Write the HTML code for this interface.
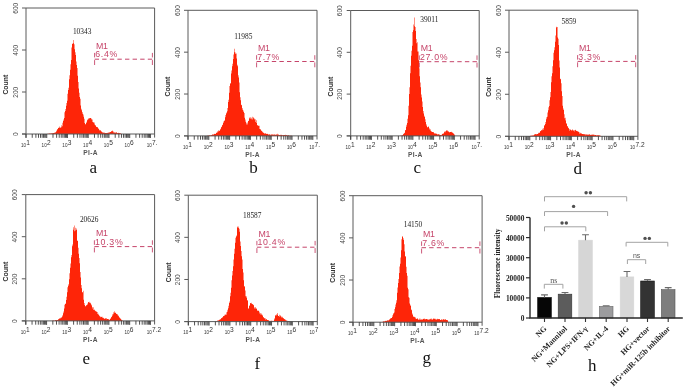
<!DOCTYPE html>
<html><head><meta charset="utf-8"><title>Figure</title>
<style>
html,body{margin:0;padding:0;background:#fff;}
body{width:685px;height:388px;overflow:hidden;}
svg{display:block;will-change:transform;}
</style></head>
<body>
<svg width="685" height="388" viewBox="0 0 685 388">
<rect width="685" height="388" fill="#fff"/>
<polygon points="46.5,134 46.5,133.97 47,133.97 47,133.91 47.5,133.91 47.5,133.86 48,133.86 48,133.8 48.5,133.8 48.5,133.74 49,133.74 49,133.56 49.5,133.56 49.5,133.52 50,133.52 50,133.59 50.5,133.59 50.5,133.6 51,133.6 51,133.31 51.5,133.31 51.5,133.43 52,133.43 52,133.19 52.5,133.19 52.5,133.31 53,133.31 53,133.1 53.5,133.1 53.5,133.05 54,133.05 54,132.89 54.5,132.89 54.5,132.5 55,132.5 55,132.3 55.5,132.3 55.5,132.39 56,132.39 56,131.61 56.5,131.61 56.5,130.42 57,130.42 57,129.06 57.5,129.06 57.5,129.53 58,129.53 58,127.96 58.5,127.96 58.5,127.87 59,127.87 59,127.8 59.5,127.8 59.5,126.6 60,126.6 60,127.56 60.5,127.56 60.5,127.7 61,127.7 61,127.2 61.5,127.2 61.5,125.36 62,125.36 62,126.25 62.5,126.25 62.5,122.72 63,122.72 63,121.04 63.5,121.04 63.5,119.58 64,119.58 64,117.99 64.5,117.99 64.5,112.34 65,112.34 65,110.89 65.5,110.89 65.5,108.97 66,108.97 66,105.75 66.5,105.75 66.5,102.9 67,102.9 67,100.72 67.5,100.72 67.5,93.77 68,93.77 68,90.04 68.5,90.04 68.5,87.86 69,87.86 69,79.14 69.5,79.14 69.5,75.15 70,75.15 70,69.85 70.5,69.85 70.5,64.32 71,64.32 71,60.07 71.5,60.07 71.5,47.62 72,47.62 72,43.52 72.5,43.52 72.5,44.06 73,44.06 73,40.1 73.5,40.1 73.5,43.14 74,43.14 74,44.32 74.5,44.32 74.5,49.22 75,49.22 75,52.22 75.5,52.22 75.5,54.94 76,54.94 76,61.54 76.5,61.54 76.5,64.9 77,64.9 77,68.12 77.5,68.12 77.5,75.63 78,75.63 78,82.05 78.5,82.05 78.5,88.51 79,88.51 79,92.71 79.5,92.71 79.5,96.96 80,96.96 80,98.75 80.5,98.75 80.5,105.46 81,105.46 81,108.77 81.5,108.77 81.5,110.26 82,110.26 82,111.9 82.5,111.9 82.5,113.81 83,113.81 83,114.48 83.5,114.48 83.5,116.82 84,116.82 84,118.73 84.5,118.73 84.5,122.98 85,122.98 85,123.99 85.5,123.99 85.5,124.52 86,124.52 86,123.1 86.5,123.1 86.5,121.82 87,121.82 87,120.26 87.5,120.26 87.5,119.42 88,119.42 88,118.24 88.5,118.24 88.5,119.36 89,119.36 89,118.19 89.5,118.19 89.5,118.19 90,118.19 90,118.02 90.5,118.02 90.5,117.94 91,117.94 91,118.43 91.5,118.43 91.5,119.59 92,119.59 92,119.53 92.5,119.53 92.5,121.94 93,121.94 93,122.29 93.5,122.29 93.5,122.48 94,122.48 94,122.59 94.5,122.59 94.5,124.61 95,124.61 95,125.51 95.5,125.51 95.5,125.34 96,125.34 96,126.65 96.5,126.65 96.5,127.04 97,127.04 97,126.9 97.5,126.9 97.5,127.55 98,127.55 98,128.58 98.5,128.58 98.5,128.85 99,128.85 99,129.71 99.5,129.71 99.5,130.41 100,130.41 100,129.98 100.5,129.98 100.5,130.75 101,130.75 101,131.24 101.5,131.24 101.5,131.84 102,131.84 102,132.4 102.5,132.4 102.5,132.33 103,132.33 103,132.62 103.5,132.62 103.5,132.84 104,132.84 104,132.7 104.5,132.7 104.5,132.83 105,132.83 105,132.95 105.5,132.95 105.5,132.88 106,132.88 106,132.9 106.5,132.9 106.5,133.08 107,133.08 107,133 107.5,133 107.5,132.68 108,132.68 108,132.77 108.5,132.77 108.5,132.53 109,132.53 109,132.32 109.5,132.32 109.5,132.48 110,132.48 110,132.06 110.5,132.06 110.5,131.9 111,131.9 111,131.18 111.5,131.18 111.5,131.15 112,131.15 112,130.48 112.5,130.48 112.5,131.15 113,131.15 113,131.5 113.5,131.5 113.5,132.4 114,132.4 114,132.45 114.5,132.45 114.5,132.46 115,132.46 115,132.42 115.5,132.42 115.5,132.69 116,132.69 116,132.37 116.5,132.37 116.5,132.55 117,132.55 117,133.37 117.5,133.37 117.5,133.01 118,133.01 118,133.02 118.5,133.02 118.5,132.85 119,132.85 119,132.96 119.5,132.96 119.5,133.33 120,133.33 120,133.19 120.5,133.19 120.5,133.44 121,133.44 121,133.74 121.5,133.74 121.5,133.91 122,133.91 122,134" fill="#fe2508"/>
<path d="M26 8H154.6V137.6" fill="none" stroke="#5a5a5a" stroke-width="1"/>
<path d="M26 8V137.6" fill="none" stroke="#5a5a5a" stroke-width="1"/>
<path d="M22 134H154.6" fill="none" stroke="#5a5a5a" stroke-width="1"/>
<path d="M22 134H26" stroke="#5a5a5a" stroke-width="1"/>
<text transform="translate(17.5 134.3) rotate(-90) scale(0.84 1)" text-anchor="middle" font-family='"Liberation Sans", sans-serif' font-size="7.8" fill="#444">0</text>
<path d="M22 92H26" stroke="#5a5a5a" stroke-width="1"/>
<text transform="translate(17.5 92.3) rotate(-90) scale(0.84 1)" text-anchor="middle" font-family='"Liberation Sans", sans-serif' font-size="7.8" fill="#444">200</text>
<path d="M22 50H26" stroke="#5a5a5a" stroke-width="1"/>
<text transform="translate(17.5 50.3) rotate(-90) scale(0.84 1)" text-anchor="middle" font-family='"Liberation Sans", sans-serif' font-size="7.8" fill="#444">400</text>
<path d="M22 8H26" stroke="#5a5a5a" stroke-width="1"/>
<text transform="translate(17.5 8.3) rotate(-90) scale(0.84 1)" text-anchor="middle" font-family='"Liberation Sans", sans-serif' font-size="7.8" fill="#444">600</text>
<text transform="translate(8.4 84.7) rotate(-90) scale(0.9 1)" text-anchor="middle" font-family='"Liberation Sans", sans-serif' font-weight="bold" font-size="7.6" fill="#333">Count</text>
<path d="M26 134V138M32.24 134V137.8M35.9 134V137.8M38.49 134V137.8M40.5 134V137.8M42.14 134V137.8M43.53 134V137.8M44.73 134V137.8M45.79 134V137.8M46.74 134V138M52.99 134V137.8M56.64 134V137.8M59.23 134V137.8M61.24 134V137.8M62.88 134V137.8M64.27 134V137.8M65.47 134V137.8M66.53 134V137.8M67.48 134V138M73.73 134V137.8M77.38 134V137.8M79.97 134V137.8M81.98 134V137.8M83.62 134V137.8M85.01 134V137.8M86.22 134V137.8M87.28 134V137.8M88.23 134V138M94.47 134V137.8M98.12 134V137.8M100.71 134V137.8M102.72 134V137.8M104.37 134V137.8M105.75 134V137.8M106.96 134V137.8M108.02 134V137.8M108.97 134V138M115.21 134V137.8M118.86 134V137.8M121.46 134V137.8M123.47 134V137.8M125.11 134V137.8M126.5 134V137.8M127.7 134V137.8M128.76 134V137.8M129.71 134V138M135.95 134V137.8M139.61 134V137.8M142.2 134V137.8M144.21 134V137.8M145.85 134V137.8M147.24 134V137.8M148.44 134V137.8M149.5 134V137.8M150.45 134V138" stroke="#333" stroke-width="0.85"/>
<text x="26" y="146.6" text-anchor="end" font-family='"Liberation Sans", sans-serif' font-size="4.6" fill="#333">10</text>
<text x="26.2" y="144.8" font-family='"Liberation Sans", sans-serif' font-size="6.6" fill="#333">1</text>
<text x="46.74" y="146.6" text-anchor="end" font-family='"Liberation Sans", sans-serif' font-size="4.6" fill="#333">10</text>
<text x="46.94" y="144.8" font-family='"Liberation Sans", sans-serif' font-size="6.6" fill="#333">2</text>
<text x="67.48" y="146.6" text-anchor="end" font-family='"Liberation Sans", sans-serif' font-size="4.6" fill="#333">10</text>
<text x="67.68" y="144.8" font-family='"Liberation Sans", sans-serif' font-size="6.6" fill="#333">3</text>
<text x="88.23" y="146.6" text-anchor="end" font-family='"Liberation Sans", sans-serif' font-size="4.6" fill="#333">10</text>
<text x="88.43" y="144.8" font-family='"Liberation Sans", sans-serif' font-size="6.6" fill="#333">4</text>
<text x="108.97" y="146.6" text-anchor="end" font-family='"Liberation Sans", sans-serif' font-size="4.6" fill="#333">10</text>
<text x="109.17" y="144.8" font-family='"Liberation Sans", sans-serif' font-size="6.6" fill="#333">5</text>
<text x="129.71" y="146.6" text-anchor="end" font-family='"Liberation Sans", sans-serif' font-size="4.6" fill="#333">10</text>
<text x="129.91" y="144.8" font-family='"Liberation Sans", sans-serif' font-size="6.6" fill="#333">6</text>
<text x="151.9" y="146.6" text-anchor="end" font-family='"Liberation Sans", sans-serif' font-size="4.6" fill="#333">10</text>
<text x="152.1" y="144.8" font-family='"Liberation Sans", sans-serif' font-size="6.6" fill="#333">7.</text>
<text x="90.6" y="154.8" text-anchor="middle" font-family='"Liberation Sans", sans-serif' font-weight="bold" font-size="6.6" letter-spacing="0.4" fill="#555">PI-A</text>
<text x="72.9" y="34.3" font-family='"Liberation Serif", serif' font-size="7.4" fill="#222">10343</text>
<path d="M94.6 59.2H152.4" stroke="#c6456a" stroke-width="1" stroke-dasharray="4.4 3.2"/>
<path d="M94.6 52.9V57.4M94.6 60.1V65M152.4 52.9V57.4M152.4 60.1V65" stroke="#c6456a" stroke-width="0.9"/>
<text x="96.1" y="48.8" font-family='"Liberation Sans", sans-serif' font-size="8.8" letter-spacing="-0.3" fill="#c6456a">M1</text>
<text x="95.2" y="57.3" font-family='"Liberation Sans", sans-serif' font-size="8.8" letter-spacing="0.7" fill="#c6456a">6.4%</text>
<text x="93.2" y="172.6" text-anchor="middle" font-family='"Liberation Serif", serif' font-size="17" fill="#111">a</text>
<polygon points="207,135.9 207,135.86 207.5,135.86 207.5,135.78 208,135.78 208,135.69 208.5,135.69 208.5,135.61 209,135.61 209,135.53 209.5,135.53 209.5,135.32 210,135.32 210,135.41 210.5,135.41 210.5,135.17 211,135.17 211,135.03 211.5,135.03 211.5,135.24 212,135.24 212,134.81 212.5,134.81 212.5,134.28 213,134.28 213,134.42 213.5,134.42 213.5,134.55 214,134.55 214,133.66 214.5,133.66 214.5,134.07 215,134.07 215,133.69 215.5,133.69 215.5,133.97 216,133.97 216,132.68 216.5,132.68 216.5,132.75 217,132.75 217,132.48 217.5,132.48 217.5,131.24 218,131.24 218,130.28 218.5,130.28 218.5,131.4 219,131.4 219,130.89 219.5,130.89 219.5,130.45 220,130.45 220,128.77 220.5,128.77 220.5,129.47 221,129.47 221,127.19 221.5,127.19 221.5,126.68 222,126.68 222,125.32 222.5,125.32 222.5,124.66 223,124.66 223,122.97 223.5,122.97 223.5,121.41 224,121.41 224,121.04 224.5,121.04 224.5,120.26 225,120.26 225,117.31 225.5,117.31 225.5,115.12 226,115.12 226,113.41 226.5,113.41 226.5,112.56 227,112.56 227,111.13 227.5,111.13 227.5,108.03 228,108.03 228,101.89 228.5,101.89 228.5,99.79 229,99.79 229,92.84 229.5,92.84 229.5,86 230,86 230,83.64 230.5,83.64 230.5,83.11 231,83.11 231,73.62 231.5,73.62 231.5,70.46 232,70.46 232,66.21 232.5,66.21 232.5,63.77 233,63.77 233,58.96 233.5,58.96 233.5,54.4 234,54.4 234,52.3 234.5,52.3 234.5,48.87 235,48.87 235,52.55 235.5,52.55 235.5,54.02 236,54.02 236,53.53 236.5,53.53 236.5,58.42 237,58.42 237,66.33 237.5,66.33 237.5,64.71 238,64.71 238,75.33 238.5,75.33 238.5,77.44 239,77.44 239,82.51 239.5,82.51 239.5,92.16 240,92.16 240,97.16 240.5,97.16 240.5,100.29 241,100.29 241,104.76 241.5,104.76 241.5,105.14 242,105.14 242,108.12 242.5,108.12 242.5,109.79 243,109.79 243,110.47 243.5,110.47 243.5,111.96 244,111.96 244,112.93 244.5,112.93 244.5,117.83 245,117.83 245,119.52 245.5,119.52 245.5,121.71 246,121.71 246,122.73 246.5,122.73 246.5,124.43 247,124.43 247,124.52 247.5,124.52 247.5,122.55 248,122.55 248,120.68 248.5,120.68 248.5,120.99 249,120.99 249,117.6 249.5,117.6 249.5,118.56 250,118.56 250,118.69 250.5,118.69 250.5,117.27 251,117.27 251,119.25 251.5,119.25 251.5,117.77 252,117.77 252,119.48 252.5,119.48 252.5,116.84 253,116.84 253,118.36 253.5,118.36 253.5,117.3 254,117.3 254,118.62 254.5,118.62 254.5,119.38 255,119.38 255,119.37 255.5,119.37 255.5,122.09 256,122.09 256,120.33 256.5,120.33 256.5,123.11 257,123.11 257,125.08 257.5,125.08 257.5,125.41 258,125.41 258,125.45 258.5,125.45 258.5,126.08 259,126.08 259,125.69 259.5,125.69 259.5,129.1 260,129.1 260,129.51 260.5,129.51 260.5,129.37 261,129.37 261,130.98 261.5,130.98 261.5,130.43 262,130.43 262,131.59 262.5,131.59 262.5,132.13 263,132.13 263,132.44 263.5,132.44 263.5,133.03 264,133.03 264,133.35 264.5,133.35 264.5,133.73 265,133.73 265,133.44 265.5,133.44 265.5,133.25 266,133.25 266,133.85 266.5,133.85 266.5,134.04 267,134.04 267,133.63 267.5,133.63 267.5,134.08 268,134.08 268,134.68 268.5,134.68 268.5,134.22 269,134.22 269,134.62 269.5,134.62 269.5,134.18 270,134.18 270,134.49 270.5,134.49 270.5,135.13 271,135.13 271,134.13 271.5,134.13 271.5,134.77 272,134.77 272,134.56 272.5,134.56 272.5,134.4 273,134.4 273,134.73 273.5,134.73 273.5,134.38 274,134.38 274,134.42 274.5,134.42 274.5,134.38 275,134.38 275,135.12 275.5,135.12 275.5,134.39 276,134.39 276,134.35 276.5,134.35 276.5,134.78 277,134.78 277,133.85 277.5,133.85 277.5,134.73 278,134.73 278,134.87 278.5,134.87 278.5,134.38 279,134.38 279,134.91 279.5,134.91 279.5,134.91 280,134.91 280,134.87 280.5,134.87 280.5,135.24 281,135.24 281,134.7 281.5,134.7 281.5,135.1 282,135.1 282,135.39 282.5,135.39 282.5,135.03 283,135.03 283,134.99 283.5,134.99 283.5,135.32 284,135.32 284,135 284.5,135 284.5,135.07 285,135.07 285,134.77 285.5,134.77 285.5,135.23 286,135.23 286,135.04 286.5,135.04 286.5,135.21 287,135.21 287,135.44 287.5,135.44 287.5,135.52 288,135.52 288,135.23 288.5,135.23 288.5,135.35 289,135.35 289,135.7 289.5,135.7 289.5,135.64 290,135.64 290,135.7 290.5,135.7 290.5,135.75 291,135.75 291,135.81 291.5,135.81 291.5,135.87 292,135.87 292,135.9" fill="#fe2508"/>
<path d="M188 10.3H317V139.5" fill="none" stroke="#5a5a5a" stroke-width="1"/>
<path d="M188 10.3V139.5" fill="none" stroke="#5a5a5a" stroke-width="1"/>
<path d="M184 135.9H317" fill="none" stroke="#5a5a5a" stroke-width="1"/>
<path d="M184 135.9H188" stroke="#5a5a5a" stroke-width="1"/>
<text transform="translate(179.5 136.2) rotate(-90) scale(0.84 1)" text-anchor="middle" font-family='"Liberation Sans", sans-serif' font-size="7.8" fill="#444">0</text>
<path d="M184 94.03H188" stroke="#5a5a5a" stroke-width="1"/>
<text transform="translate(179.5 94.33) rotate(-90) scale(0.84 1)" text-anchor="middle" font-family='"Liberation Sans", sans-serif' font-size="7.8" fill="#444">200</text>
<path d="M184 52.17H188" stroke="#5a5a5a" stroke-width="1"/>
<text transform="translate(179.5 52.47) rotate(-90) scale(0.84 1)" text-anchor="middle" font-family='"Liberation Sans", sans-serif' font-size="7.8" fill="#444">400</text>
<path d="M184 10.3H188" stroke="#5a5a5a" stroke-width="1"/>
<text transform="translate(179.5 10.6) rotate(-90) scale(0.84 1)" text-anchor="middle" font-family='"Liberation Sans", sans-serif' font-size="7.8" fill="#444">600</text>
<text transform="translate(170.4 86.6) rotate(-90) scale(0.9 1)" text-anchor="middle" font-family='"Liberation Sans", sans-serif' font-weight="bold" font-size="7.6" fill="#333">Count</text>
<path d="M188 135.9V139.9M194.26 135.9V139.7M197.93 135.9V139.7M200.53 135.9V139.7M202.54 135.9V139.7M204.19 135.9V139.7M205.58 135.9V139.7M206.79 135.9V139.7M207.85 135.9V139.7M208.81 135.9V139.9M215.07 135.9V139.7M218.73 135.9V139.7M221.33 135.9V139.7M223.35 135.9V139.7M225 135.9V139.7M226.39 135.9V139.7M227.6 135.9V139.7M228.66 135.9V139.7M229.61 135.9V139.9M235.88 135.9V139.7M239.54 135.9V139.7M242.14 135.9V139.7M244.16 135.9V139.7M245.8 135.9V139.7M247.2 135.9V139.7M248.4 135.9V139.7M249.47 135.9V139.7M250.42 135.9V139.9M256.68 135.9V139.7M260.35 135.9V139.7M262.95 135.9V139.7M264.96 135.9V139.7M266.61 135.9V139.7M268 135.9V139.7M269.21 135.9V139.7M270.27 135.9V139.7M271.23 135.9V139.9M277.49 135.9V139.7M281.15 135.9V139.7M283.75 135.9V139.7M285.77 135.9V139.7M287.42 135.9V139.7M288.81 135.9V139.7M290.02 135.9V139.7M291.08 135.9V139.7M292.03 135.9V139.9M298.3 135.9V139.7M301.96 135.9V139.7M304.56 135.9V139.7M306.58 135.9V139.7M308.22 135.9V139.7M309.62 135.9V139.7M310.82 135.9V139.7M311.89 135.9V139.7M312.84 135.9V139.9" stroke="#333" stroke-width="0.85"/>
<text x="188" y="148.5" text-anchor="end" font-family='"Liberation Sans", sans-serif' font-size="4.6" fill="#333">10</text>
<text x="188.2" y="146.7" font-family='"Liberation Sans", sans-serif' font-size="6.6" fill="#333">1</text>
<text x="208.81" y="148.5" text-anchor="end" font-family='"Liberation Sans", sans-serif' font-size="4.6" fill="#333">10</text>
<text x="209.01" y="146.7" font-family='"Liberation Sans", sans-serif' font-size="6.6" fill="#333">2</text>
<text x="229.61" y="148.5" text-anchor="end" font-family='"Liberation Sans", sans-serif' font-size="4.6" fill="#333">10</text>
<text x="229.81" y="146.7" font-family='"Liberation Sans", sans-serif' font-size="6.6" fill="#333">3</text>
<text x="250.42" y="148.5" text-anchor="end" font-family='"Liberation Sans", sans-serif' font-size="4.6" fill="#333">10</text>
<text x="250.62" y="146.7" font-family='"Liberation Sans", sans-serif' font-size="6.6" fill="#333">4</text>
<text x="271.23" y="148.5" text-anchor="end" font-family='"Liberation Sans", sans-serif' font-size="4.6" fill="#333">10</text>
<text x="271.43" y="146.7" font-family='"Liberation Sans", sans-serif' font-size="6.6" fill="#333">5</text>
<text x="292.03" y="148.5" text-anchor="end" font-family='"Liberation Sans", sans-serif' font-size="4.6" fill="#333">10</text>
<text x="292.23" y="146.7" font-family='"Liberation Sans", sans-serif' font-size="6.6" fill="#333">6</text>
<text x="314.3" y="148.5" text-anchor="end" font-family='"Liberation Sans", sans-serif' font-size="4.6" fill="#333">10</text>
<text x="314.5" y="146.7" font-family='"Liberation Sans", sans-serif' font-size="6.6" fill="#333">7.</text>
<text x="252.6" y="156.7" text-anchor="middle" font-family='"Liberation Sans", sans-serif' font-weight="bold" font-size="6.6" letter-spacing="0.4" fill="#555">PI-A</text>
<text x="234.2" y="38.8" font-family='"Liberation Serif", serif' font-size="7.4" fill="#222">11985</text>
<path d="M256.6 61.5H314.8" stroke="#c6456a" stroke-width="1" stroke-dasharray="4.4 3.2"/>
<path d="M256.6 55.2V59.7M256.6 62.4V67.3M314.8 55.2V59.7M314.8 62.4V67.3" stroke="#c6456a" stroke-width="0.9"/>
<text x="258.1" y="51.1" font-family='"Liberation Sans", sans-serif' font-size="8.8" letter-spacing="-0.3" fill="#c6456a">M1</text>
<text x="257.2" y="59.6" font-family='"Liberation Sans", sans-serif' font-size="8.8" letter-spacing="0.7" fill="#c6456a">7.7%</text>
<text x="253.5" y="173.2" text-anchor="middle" font-family='"Liberation Serif", serif' font-size="17" fill="#111">b</text>
<polygon points="400,135.9 400,135.82 400.5,135.82 400.5,135.66 401,135.66 401,135.67 401.5,135.67 401.5,135.45 402,135.45 402,135.43 402.5,135.43 402.5,135.03 403,135.03 403,134.37 403.5,134.37 403.5,133.66 404,133.66 404,133.13 404.5,133.13 404.5,132.69 405,132.69 405,130.21 405.5,130.21 405.5,130.02 406,130.02 406,126.81 406.5,126.81 406.5,124.77 407,124.77 407,122.9 407.5,122.9 407.5,118.79 408,118.79 408,115.21 408.5,115.21 408.5,105.69 409,105.69 409,93.99 409.5,93.99 409.5,87.31 410,87.31 410,73.36 410.5,73.36 410.5,65.68 411,65.68 411,55.64 411.5,55.64 411.5,50.8 412,50.8 412,45.7 412.5,45.7 412.5,32.06 413,32.06 413,30.34 413.5,30.34 413.5,24.51 414,24.51 414,17.4 414.5,17.4 414.5,26.29 415,26.29 415,26.89 415.5,26.89 415.5,31.1 416,31.1 416,38.96 416.5,38.96 416.5,43.24 417,43.24 417,42.32 417.5,42.32 417.5,51.43 418,51.43 418,51.55 418.5,51.55 418.5,60.31 419,60.31 419,68.32 419.5,68.32 419.5,76.29 420,76.29 420,82.47 420.5,82.47 420.5,87.24 421,87.24 421,94.58 421.5,94.58 421.5,97.52 422,97.52 422,101.52 422.5,101.52 422.5,107.04 423,107.04 423,111.04 423.5,111.04 423.5,113.62 424,113.62 424,115.78 424.5,115.78 424.5,117.02 425,117.02 425,119.3 425.5,119.3 425.5,121.92 426,121.92 426,124.19 426.5,124.19 426.5,125.7 427,125.7 427,127.15 427.5,127.15 427.5,127.22 428,127.22 428,126.59 428.5,126.59 428.5,126.82 429,126.82 429,128.14 429.5,128.14 429.5,129.52 430,129.52 430,129.36 430.5,129.36 430.5,130.72 431,130.72 431,131.86 431.5,131.86 431.5,131.25 432,131.25 432,132.06 432.5,132.06 432.5,131.93 433,131.93 433,132.01 433.5,132.01 433.5,132.42 434,132.42 434,133.36 434.5,133.36 434.5,133.46 435,133.46 435,133.55 435.5,133.55 435.5,133.62 436,133.62 436,133.53 436.5,133.53 436.5,134.1 437,134.1 437,134.1 437.5,134.1 437.5,134.77 438,134.77 438,134.58 438.5,134.58 438.5,134.11 439,134.11 439,134.49 439.5,134.49 439.5,134.84 440,134.84 440,134.94 440.5,134.94 440.5,134.91 441,134.91 441,135.24 441.5,135.24 441.5,134.83 442,134.83 442,133.8 442.5,133.8 442.5,134.12 443,134.12 443,133.87 443.5,133.87 443.5,133.22 444,133.22 444,131.62 444.5,131.62 444.5,132.2 445,132.2 445,132.16 445.5,132.16 445.5,130.99 446,130.99 446,130.48 446.5,130.48 446.5,130.51 447,130.51 447,130.24 447.5,130.24 447.5,131.23 448,131.23 448,131.49 448.5,131.49 448.5,131.45 449,131.45 449,132.05 449.5,132.05 449.5,132.52 450,132.52 450,132.03 450.5,132.03 450.5,132.1 451,132.1 451,131.69 451.5,131.69 451.5,132.27 452,132.27 452,132.49 452.5,132.49 452.5,132.72 453,132.72 453,133.35 453.5,133.35 453.5,133.85 454,133.85 454,134.24 454.5,134.24 454.5,135.29 455,135.29 455,135.9" fill="#fe2508"/>
<path d="M350.7 10.5H479.2V139.5" fill="none" stroke="#5a5a5a" stroke-width="1"/>
<path d="M350.7 10.5V139.5" fill="none" stroke="#5a5a5a" stroke-width="1"/>
<path d="M346.7 135.9H479.2" fill="none" stroke="#5a5a5a" stroke-width="1"/>
<path d="M346.7 135.9H350.7" stroke="#5a5a5a" stroke-width="1"/>
<text transform="translate(342.2 136.2) rotate(-90) scale(0.84 1)" text-anchor="middle" font-family='"Liberation Sans", sans-serif' font-size="7.8" fill="#444">0</text>
<path d="M346.7 94.1H350.7" stroke="#5a5a5a" stroke-width="1"/>
<text transform="translate(342.2 94.4) rotate(-90) scale(0.84 1)" text-anchor="middle" font-family='"Liberation Sans", sans-serif' font-size="7.8" fill="#444">200</text>
<path d="M346.7 52.3H350.7" stroke="#5a5a5a" stroke-width="1"/>
<text transform="translate(342.2 52.6) rotate(-90) scale(0.84 1)" text-anchor="middle" font-family='"Liberation Sans", sans-serif' font-size="7.8" fill="#444">400</text>
<path d="M346.7 10.5H350.7" stroke="#5a5a5a" stroke-width="1"/>
<text transform="translate(342.2 10.8) rotate(-90) scale(0.84 1)" text-anchor="middle" font-family='"Liberation Sans", sans-serif' font-size="7.8" fill="#444">600</text>
<text transform="translate(333.1 86.6) rotate(-90) scale(0.9 1)" text-anchor="middle" font-family='"Liberation Sans", sans-serif' font-weight="bold" font-size="7.6" fill="#333">Count</text>
<path d="M350.7 135.9V139.9M356.94 135.9V139.7M360.59 135.9V139.7M363.18 135.9V139.7M365.19 135.9V139.7M366.83 135.9V139.7M368.22 135.9V139.7M369.42 135.9V139.7M370.48 135.9V139.7M371.43 135.9V139.9M377.66 135.9V139.7M381.31 135.9V139.7M383.9 135.9V139.7M385.91 135.9V139.7M387.55 135.9V139.7M388.94 135.9V139.7M390.14 135.9V139.7M391.2 135.9V139.7M392.15 135.9V139.9M398.39 135.9V139.7M402.04 135.9V139.7M404.63 135.9V139.7M406.64 135.9V139.7M408.28 135.9V139.7M409.67 135.9V139.7M410.87 135.9V139.7M411.93 135.9V139.7M412.88 135.9V139.9M419.12 135.9V139.7M422.77 135.9V139.7M425.36 135.9V139.7M427.36 135.9V139.7M429.01 135.9V139.7M430.39 135.9V139.7M431.59 135.9V139.7M432.65 135.9V139.7M433.6 135.9V139.9M439.84 135.9V139.7M443.49 135.9V139.7M446.08 135.9V139.7M448.09 135.9V139.7M449.73 135.9V139.7M451.12 135.9V139.7M452.32 135.9V139.7M453.38 135.9V139.7M454.33 135.9V139.9M460.57 135.9V139.7M464.22 135.9V139.7M466.81 135.9V139.7M468.82 135.9V139.7M470.46 135.9V139.7M471.84 135.9V139.7M473.05 135.9V139.7M474.11 135.9V139.7M475.05 135.9V139.9" stroke="#333" stroke-width="0.85"/>
<text x="350.7" y="148.5" text-anchor="end" font-family='"Liberation Sans", sans-serif' font-size="4.6" fill="#333">10</text>
<text x="350.9" y="146.7" font-family='"Liberation Sans", sans-serif' font-size="6.6" fill="#333">1</text>
<text x="371.43" y="148.5" text-anchor="end" font-family='"Liberation Sans", sans-serif' font-size="4.6" fill="#333">10</text>
<text x="371.63" y="146.7" font-family='"Liberation Sans", sans-serif' font-size="6.6" fill="#333">2</text>
<text x="392.15" y="148.5" text-anchor="end" font-family='"Liberation Sans", sans-serif' font-size="4.6" fill="#333">10</text>
<text x="392.35" y="146.7" font-family='"Liberation Sans", sans-serif' font-size="6.6" fill="#333">3</text>
<text x="412.88" y="148.5" text-anchor="end" font-family='"Liberation Sans", sans-serif' font-size="4.6" fill="#333">10</text>
<text x="413.08" y="146.7" font-family='"Liberation Sans", sans-serif' font-size="6.6" fill="#333">4</text>
<text x="433.6" y="148.5" text-anchor="end" font-family='"Liberation Sans", sans-serif' font-size="4.6" fill="#333">10</text>
<text x="433.8" y="146.7" font-family='"Liberation Sans", sans-serif' font-size="6.6" fill="#333">5</text>
<text x="454.33" y="148.5" text-anchor="end" font-family='"Liberation Sans", sans-serif' font-size="4.6" fill="#333">10</text>
<text x="454.53" y="146.7" font-family='"Liberation Sans", sans-serif' font-size="6.6" fill="#333">6</text>
<text x="476.5" y="148.5" text-anchor="end" font-family='"Liberation Sans", sans-serif' font-size="4.6" fill="#333">10</text>
<text x="476.7" y="146.7" font-family='"Liberation Sans", sans-serif' font-size="6.6" fill="#333">7.</text>
<text x="415.3" y="156.7" text-anchor="middle" font-family='"Liberation Sans", sans-serif' font-weight="bold" font-size="6.6" letter-spacing="0.4" fill="#555">PI-A</text>
<text x="420.2" y="21.5" font-family='"Liberation Serif", serif' font-size="7.4" fill="#222">39011</text>
<path d="M419.3 61.7H477" stroke="#c6456a" stroke-width="1" stroke-dasharray="4.4 3.2"/>
<path d="M419.3 55.4V59.9M419.3 62.6V67.5M477 55.4V59.9M477 62.6V67.5" stroke="#c6456a" stroke-width="0.9"/>
<text x="420.8" y="51.3" font-family='"Liberation Sans", sans-serif' font-size="8.8" letter-spacing="-0.3" fill="#c6456a">M1</text>
<text x="419.9" y="59.8" font-family='"Liberation Sans", sans-serif' font-size="8.8" letter-spacing="0.7" fill="#c6456a">27.0%</text>
<text x="417.2" y="172.8" text-anchor="middle" font-family='"Liberation Serif", serif' font-size="17" fill="#111">c</text>
<polygon points="528,136.3 528,136.25 528.5,136.25 528.5,136.16 529,136.16 529,136.06 529.5,136.06 529.5,135.93 530,135.93 530,135.72 530.5,135.72 530.5,135.78 531,135.78 531,135.41 531.5,135.41 531.5,135.69 532,135.69 532,135.8 532.5,135.8 532.5,135.21 533,135.21 533,135.38 533.5,135.38 533.5,135.26 534,135.26 534,134.63 534.5,134.63 534.5,134.27 535,134.27 535,133.94 535.5,133.94 535.5,134.21 536,134.21 536,134.33 536.5,134.33 536.5,134.27 537,134.27 537,133.91 537.5,133.91 537.5,133.88 538,133.88 538,133.42 538.5,133.42 538.5,132.71 539,132.71 539,132.43 539.5,132.43 539.5,132.91 540,132.91 540,131.2 540.5,131.2 540.5,131.11 541,131.11 541,130.44 541.5,130.44 541.5,129.92 542,129.92 542,128.74 542.5,128.74 542.5,130.17 543,130.17 543,129.75 543.5,129.75 543.5,127.88 544,127.88 544,125.85 544.5,125.85 544.5,125 545,125 545,124.05 545.5,124.05 545.5,121.88 546,121.88 546,119.32 546.5,119.32 546.5,117.2 547,117.2 547,116.69 547.5,116.69 547.5,112.47 548,112.47 548,110.19 548.5,110.19 548.5,107.24 549,107.24 549,105.93 549.5,105.93 549.5,100.19 550,100.19 550,97.33 550.5,97.33 550.5,92.09 551,92.09 551,82.27 551.5,82.27 551.5,76.23 552,76.23 552,73.33 552.5,73.33 552.5,66.18 553,66.18 553,60.26 553.5,60.26 553.5,52.67 554,52.67 554,50.35 554.5,50.35 554.5,47.27 555,47.27 555,41.68 555.5,41.68 555.5,35.38 556,35.38 556,26.8 556.5,26.8 556.5,27.54 557,27.54 557,26.97 557.5,26.97 557.5,37.47 558,37.47 558,38.68 558.5,38.68 558.5,44.96 559,44.96 559,60.49 559.5,60.49 559.5,67.44 560,67.44 560,78.84 560.5,78.84 560.5,79.2 561,79.2 561,83.32 561.5,83.32 561.5,91.32 562,91.32 562,96.01 562.5,96.01 562.5,105.85 563,105.85 563,108.53 563.5,108.53 563.5,110.09 564,110.09 564,114.17 564.5,114.17 564.5,118.16 565,118.16 565,117.73 565.5,117.73 565.5,120.39 566,120.39 566,123.36 566.5,123.36 566.5,123.76 567,123.76 567,126.12 567.5,126.12 567.5,126.44 568,126.44 568,127.79 568.5,127.79 568.5,128.25 569,128.25 569,130.79 569.5,130.79 569.5,129.09 570,129.09 570,129.83 570.5,129.83 570.5,129.42 571,129.42 571,130.1 571.5,130.1 571.5,130.7 572,130.7 572,129.18 572.5,129.18 572.5,130.18 573,130.18 573,130.69 573.5,130.69 573.5,130.32 574,130.32 574,129.95 574.5,129.95 574.5,131.42 575,131.42 575,129.64 575.5,129.64 575.5,130.17 576,130.17 576,130.89 576.5,130.89 576.5,130.79 577,130.79 577,131.21 577.5,131.21 577.5,131.21 578,131.21 578,131.42 578.5,131.42 578.5,132.09 579,132.09 579,132.13 579.5,132.13 579.5,133.74 580,133.74 580,132.65 580.5,132.65 580.5,133.5 581,133.5 581,133.45 581.5,133.45 581.5,133.56 582,133.56 582,133.92 582.5,133.92 582.5,133.98 583,133.98 583,134.21 583.5,134.21 583.5,134.06 584,134.06 584,134.52 584.5,134.52 584.5,134.01 585,134.01 585,133.97 585.5,133.97 585.5,135.31 586,135.31 586,134.29 586.5,134.29 586.5,134.83 587,134.83 587,134.72 587.5,134.72 587.5,134.4 588,134.4 588,134.5 588.5,134.5 588.5,134.69 589,134.69 589,134.33 589.5,134.33 589.5,134.6 590,134.6 590,134.74 590.5,134.74 590.5,134.89 591,134.89 591,134.86 591.5,134.86 591.5,134.87 592,134.87 592,134.52 592.5,134.52 592.5,134.85 593,134.85 593,134.65 593.5,134.65 593.5,134.55 594,134.55 594,134.8 594.5,134.8 594.5,135.14 595,135.14 595,135.03 595.5,135.03 595.5,135.09 596,135.09 596,135.17 596.5,135.17 596.5,135.4 597,135.4 597,135.55 597.5,135.55 597.5,135 598,135 598,135.23 598.5,135.23 598.5,135.14 599,135.14 599,135.25 599.5,135.25 599.5,135.44 600,135.44 600,135.84 600.5,135.84 600.5,135.84 601,135.84 601,136.05 601.5,136.05 601.5,136.19 602,136.19 602,136.3" fill="#fe2508"/>
<path d="M509 10.2H637.9V139.9" fill="none" stroke="#5a5a5a" stroke-width="1"/>
<path d="M509 10.2V139.9" fill="none" stroke="#5a5a5a" stroke-width="1"/>
<path d="M505 136.3H637.9" fill="none" stroke="#5a5a5a" stroke-width="1"/>
<path d="M505 136.3H509" stroke="#5a5a5a" stroke-width="1"/>
<text transform="translate(500.5 136.6) rotate(-90) scale(0.84 1)" text-anchor="middle" font-family='"Liberation Sans", sans-serif' font-size="7.8" fill="#444">0</text>
<path d="M505 94.27H509" stroke="#5a5a5a" stroke-width="1"/>
<text transform="translate(500.5 94.57) rotate(-90) scale(0.84 1)" text-anchor="middle" font-family='"Liberation Sans", sans-serif' font-size="7.8" fill="#444">200</text>
<path d="M505 52.23H509" stroke="#5a5a5a" stroke-width="1"/>
<text transform="translate(500.5 52.53) rotate(-90) scale(0.84 1)" text-anchor="middle" font-family='"Liberation Sans", sans-serif' font-size="7.8" fill="#444">400</text>
<path d="M505 10.2H509" stroke="#5a5a5a" stroke-width="1"/>
<text transform="translate(500.5 10.5) rotate(-90) scale(0.84 1)" text-anchor="middle" font-family='"Liberation Sans", sans-serif' font-size="7.8" fill="#444">600</text>
<text transform="translate(491.4 87) rotate(-90) scale(0.9 1)" text-anchor="middle" font-family='"Liberation Sans", sans-serif' font-weight="bold" font-size="7.6" fill="#333">Count</text>
<path d="M509 136.3V140.3M515.26 136.3V140.1M518.92 136.3V140.1M521.52 136.3V140.1M523.53 136.3V140.1M525.18 136.3V140.1M526.57 136.3V140.1M527.78 136.3V140.1M528.84 136.3V140.1M529.79 136.3V140.3M536.05 136.3V140.1M539.71 136.3V140.1M542.31 136.3V140.1M544.32 136.3V140.1M545.97 136.3V140.1M547.36 136.3V140.1M548.57 136.3V140.1M549.63 136.3V140.1M550.58 136.3V140.3M556.84 136.3V140.1M560.5 136.3V140.1M563.1 136.3V140.1M565.11 136.3V140.1M566.76 136.3V140.1M568.15 136.3V140.1M569.36 136.3V140.1M570.42 136.3V140.1M571.37 136.3V140.3M577.63 136.3V140.1M581.29 136.3V140.1M583.89 136.3V140.1M585.9 136.3V140.1M587.55 136.3V140.1M588.94 136.3V140.1M590.15 136.3V140.1M591.21 136.3V140.1M592.16 136.3V140.3M598.42 136.3V140.1M602.08 136.3V140.1M604.68 136.3V140.1M606.69 136.3V140.1M608.34 136.3V140.1M609.73 136.3V140.1M610.94 136.3V140.1M612 136.3V140.1M612.95 136.3V140.3M619.21 136.3V140.1M622.87 136.3V140.1M625.47 136.3V140.1M627.48 136.3V140.1M629.13 136.3V140.1M630.52 136.3V140.1M631.73 136.3V140.1M632.79 136.3V140.1M633.74 136.3V140.3" stroke="#333" stroke-width="0.85"/>
<text x="509" y="148.9" text-anchor="end" font-family='"Liberation Sans", sans-serif' font-size="4.6" fill="#333">10</text>
<text x="509.2" y="147.1" font-family='"Liberation Sans", sans-serif' font-size="6.6" fill="#333">1</text>
<text x="529.79" y="148.9" text-anchor="end" font-family='"Liberation Sans", sans-serif' font-size="4.6" fill="#333">10</text>
<text x="529.99" y="147.1" font-family='"Liberation Sans", sans-serif' font-size="6.6" fill="#333">2</text>
<text x="550.58" y="148.9" text-anchor="end" font-family='"Liberation Sans", sans-serif' font-size="4.6" fill="#333">10</text>
<text x="550.78" y="147.1" font-family='"Liberation Sans", sans-serif' font-size="6.6" fill="#333">3</text>
<text x="571.37" y="148.9" text-anchor="end" font-family='"Liberation Sans", sans-serif' font-size="4.6" fill="#333">10</text>
<text x="571.57" y="147.1" font-family='"Liberation Sans", sans-serif' font-size="6.6" fill="#333">4</text>
<text x="592.16" y="148.9" text-anchor="end" font-family='"Liberation Sans", sans-serif' font-size="4.6" fill="#333">10</text>
<text x="592.36" y="147.1" font-family='"Liberation Sans", sans-serif' font-size="6.6" fill="#333">5</text>
<text x="612.95" y="148.9" text-anchor="end" font-family='"Liberation Sans", sans-serif' font-size="4.6" fill="#333">10</text>
<text x="613.15" y="147.1" font-family='"Liberation Sans", sans-serif' font-size="6.6" fill="#333">6</text>
<text x="635.2" y="148.9" text-anchor="end" font-family='"Liberation Sans", sans-serif' font-size="4.6" fill="#333">10</text>
<text x="635.4" y="147.1" font-family='"Liberation Sans", sans-serif' font-size="6.6" fill="#333">7.2</text>
<text x="573.6" y="157.1" text-anchor="middle" font-family='"Liberation Sans", sans-serif' font-weight="bold" font-size="6.6" letter-spacing="0.4" fill="#555">PI-A</text>
<text x="561.5" y="24.3" font-family='"Liberation Serif", serif' font-size="7.4" fill="#222">5859</text>
<path d="M577.6 61.4H635.7" stroke="#c6456a" stroke-width="1" stroke-dasharray="4.4 3.2"/>
<path d="M577.6 55.1V59.6M577.6 62.3V67.2M635.7 55.1V59.6M635.7 62.3V67.2" stroke="#c6456a" stroke-width="0.9"/>
<text x="579.1" y="51" font-family='"Liberation Sans", sans-serif' font-size="8.8" letter-spacing="-0.3" fill="#c6456a">M1</text>
<text x="578.2" y="59.5" font-family='"Liberation Sans", sans-serif' font-size="8.8" letter-spacing="0.7" fill="#c6456a">3.3%</text>
<text x="577.8" y="173.9" text-anchor="middle" font-family='"Liberation Serif", serif' font-size="17" fill="#111">d</text>
<polygon points="52,320.9 52,320.86 52.5,320.86 52.5,320.77 53,320.77 53,320.68 53.5,320.68 53.5,320.56 54,320.56 54,320.67 54.5,320.67 54.5,320.65 55,320.65 55,320.2 55.5,320.2 55.5,320.06 56,320.06 56,320.46 56.5,320.46 56.5,319.96 57,319.96 57,320.08 57.5,320.08 57.5,319.98 58,319.98 58,319.26 58.5,319.26 58.5,319.28 59,319.28 59,318.34 59.5,318.34 59.5,318.77 60,318.77 60,318.56 60.5,318.56 60.5,317.86 61,317.86 61,318.06 61.5,318.06 61.5,317.06 62,317.06 62,316.59 62.5,316.59 62.5,315.14 63,315.14 63,313.35 63.5,313.35 63.5,311.45 64,311.45 64,308.51 64.5,308.51 64.5,304.82 65,304.82 65,303.8 65.5,303.8 65.5,303.77 66,303.77 66,299.99 66.5,299.99 66.5,296.65 67,296.65 67,292.36 67.5,292.36 67.5,287.14 68,287.14 68,285.8 68.5,285.8 68.5,284.34 69,284.34 69,279.25 69.5,279.25 69.5,273.35 70,273.35 70,267.72 70.5,267.72 70.5,263.44 71,263.44 71,257.33 71.5,257.33 71.5,254.92 72,254.92 72,246.33 72.5,246.33 72.5,244.49 73,244.49 73,229.73 73.5,229.73 73.5,227.29 74,227.29 74,225.42 74.5,225.42 74.5,231.24 75,231.24 75,230.48 75.5,230.48 75.5,227.81 76,227.81 76,229.97 76.5,229.97 76.5,228.44 77,228.44 77,240.82 77.5,240.82 77.5,240.71 78,240.71 78,247.71 78.5,247.71 78.5,253.77 79,253.77 79,257.93 79.5,257.93 79.5,263.15 80,263.15 80,271.93 80.5,271.93 80.5,277.54 81,277.54 81,285.09 81.5,285.09 81.5,288.26 82,288.26 82,292.14 82.5,292.14 82.5,292.3 83,292.3 83,290.84 83.5,290.84 83.5,299.7 84,299.7 84,303.01 84.5,303.01 84.5,304.88 85,304.88 85,305.91 85.5,305.91 85.5,306.45 86,306.45 86,305.61 86.5,305.61 86.5,304.94 87,304.94 87,303.55 87.5,303.55 87.5,304.63 88,304.63 88,302.07 88.5,302.07 88.5,302.14 89,302.14 89,301.64 89.5,301.64 89.5,303.04 90,303.04 90,303.53 90.5,303.53 90.5,302.84 91,302.84 91,305.46 91.5,305.46 91.5,304.42 92,304.42 92,307 92.5,307 92.5,308.61 93,308.61 93,307.3 93.5,307.3 93.5,310.12 94,310.12 94,309.44 94.5,309.44 94.5,310.18 95,310.18 95,310.65 95.5,310.65 95.5,311.35 96,311.35 96,311.45 96.5,311.45 96.5,311.81 97,311.81 97,312.11 97.5,312.11 97.5,314.02 98,314.02 98,313.87 98.5,313.87 98.5,315.08 99,315.08 99,315.44 99.5,315.44 99.5,316.24 100,316.24 100,317.34 100.5,317.34 100.5,316.58 101,316.58 101,316.66 101.5,316.66 101.5,317.09 102,317.09 102,316.82 102.5,316.82 102.5,318 103,318 103,317.68 103.5,317.68 103.5,318.16 104,318.16 104,318.59 104.5,318.59 104.5,318.9 105,318.9 105,318.53 105.5,318.53 105.5,318.32 106,318.32 106,318.06 106.5,318.06 106.5,319.37 107,319.37 107,318.9 107.5,318.9 107.5,319.08 108,319.08 108,319.35 108.5,319.35 108.5,319.27 109,319.27 109,319.79 109.5,319.79 109.5,319.68 110,319.68 110,319.04 110.5,319.04 110.5,318.19 111,318.19 111,317.25 111.5,317.25 111.5,316.8 112,316.8 112,315.71 112.5,315.71 112.5,314.3 113,314.3 113,314.34 113.5,314.34 113.5,312.19 114,312.19 114,311.32 114.5,311.32 114.5,312.69 115,312.69 115,312.82 115.5,312.82 115.5,312.63 116,312.63 116,314.01 116.5,314.01 116.5,313.85 117,313.85 117,313.94 117.5,313.94 117.5,315.37 118,315.37 118,315.59 118.5,315.59 118.5,316.14 119,316.14 119,317.03 119.5,317.03 119.5,317.92 120,317.92 120,318.34 120.5,318.34 120.5,318.91 121,318.91 121,319.47 121.5,319.47 121.5,320.1 122,320.1 122,320.33 122.5,320.33 122.5,320.9 123,320.9 123,320.9" fill="#fe2508"/>
<path d="M25.8 194.6H154.6V324.5" fill="none" stroke="#5a5a5a" stroke-width="1"/>
<path d="M25.8 194.6V324.5" fill="none" stroke="#5a5a5a" stroke-width="1"/>
<path d="M21.8 320.9H154.6" fill="none" stroke="#5a5a5a" stroke-width="1"/>
<path d="M21.8 320.9H25.8" stroke="#5a5a5a" stroke-width="1"/>
<text transform="translate(17.3 321.2) rotate(-90) scale(0.84 1)" text-anchor="middle" font-family='"Liberation Sans", sans-serif' font-size="7.8" fill="#444">0</text>
<path d="M21.8 278.8H25.8" stroke="#5a5a5a" stroke-width="1"/>
<text transform="translate(17.3 279.1) rotate(-90) scale(0.84 1)" text-anchor="middle" font-family='"Liberation Sans", sans-serif' font-size="7.8" fill="#444">200</text>
<path d="M21.8 236.7H25.8" stroke="#5a5a5a" stroke-width="1"/>
<text transform="translate(17.3 237) rotate(-90) scale(0.84 1)" text-anchor="middle" font-family='"Liberation Sans", sans-serif' font-size="7.8" fill="#444">400</text>
<path d="M21.8 194.6H25.8" stroke="#5a5a5a" stroke-width="1"/>
<text transform="translate(17.3 194.9) rotate(-90) scale(0.84 1)" text-anchor="middle" font-family='"Liberation Sans", sans-serif' font-size="7.8" fill="#444">600</text>
<text transform="translate(8.2 271.6) rotate(-90) scale(0.9 1)" text-anchor="middle" font-family='"Liberation Sans", sans-serif' font-weight="bold" font-size="7.6" fill="#333">Count</text>
<path d="M25.8 320.9V324.9M32.05 320.9V324.7M35.71 320.9V324.7M38.31 320.9V324.7M40.32 320.9V324.7M41.97 320.9V324.7M43.36 320.9V324.7M44.56 320.9V324.7M45.62 320.9V324.7M46.57 320.9V324.9M52.83 320.9V324.7M56.49 320.9V324.7M59.08 320.9V324.7M61.09 320.9V324.7M62.74 320.9V324.7M64.13 320.9V324.7M65.34 320.9V324.7M66.4 320.9V324.7M67.35 320.9V324.9M73.6 320.9V324.7M77.26 320.9V324.7M79.86 320.9V324.7M81.87 320.9V324.7M83.51 320.9V324.7M84.9 320.9V324.7M86.11 320.9V324.7M87.17 320.9V324.7M88.12 320.9V324.9M94.38 320.9V324.7M98.03 320.9V324.7M100.63 320.9V324.7M102.64 320.9V324.7M104.29 320.9V324.7M105.68 320.9V324.7M106.88 320.9V324.7M107.95 320.9V324.7M108.9 320.9V324.9M115.15 320.9V324.7M118.81 320.9V324.7M121.4 320.9V324.7M123.42 320.9V324.7M125.06 320.9V324.7M126.45 320.9V324.7M127.66 320.9V324.7M128.72 320.9V324.7M129.67 320.9V324.9M135.92 320.9V324.7M139.58 320.9V324.7M142.18 320.9V324.7M144.19 320.9V324.7M145.84 320.9V324.7M147.23 320.9V324.7M148.43 320.9V324.7M149.49 320.9V324.7M150.45 320.9V324.9" stroke="#333" stroke-width="0.85"/>
<text x="25.8" y="333.5" text-anchor="end" font-family='"Liberation Sans", sans-serif' font-size="4.6" fill="#333">10</text>
<text x="26" y="331.7" font-family='"Liberation Sans", sans-serif' font-size="6.6" fill="#333">1</text>
<text x="46.57" y="333.5" text-anchor="end" font-family='"Liberation Sans", sans-serif' font-size="4.6" fill="#333">10</text>
<text x="46.77" y="331.7" font-family='"Liberation Sans", sans-serif' font-size="6.6" fill="#333">2</text>
<text x="67.35" y="333.5" text-anchor="end" font-family='"Liberation Sans", sans-serif' font-size="4.6" fill="#333">10</text>
<text x="67.55" y="331.7" font-family='"Liberation Sans", sans-serif' font-size="6.6" fill="#333">3</text>
<text x="88.12" y="333.5" text-anchor="end" font-family='"Liberation Sans", sans-serif' font-size="4.6" fill="#333">10</text>
<text x="88.32" y="331.7" font-family='"Liberation Sans", sans-serif' font-size="6.6" fill="#333">4</text>
<text x="108.9" y="333.5" text-anchor="end" font-family='"Liberation Sans", sans-serif' font-size="4.6" fill="#333">10</text>
<text x="109.1" y="331.7" font-family='"Liberation Sans", sans-serif' font-size="6.6" fill="#333">5</text>
<text x="129.67" y="333.5" text-anchor="end" font-family='"Liberation Sans", sans-serif' font-size="4.6" fill="#333">10</text>
<text x="129.87" y="331.7" font-family='"Liberation Sans", sans-serif' font-size="6.6" fill="#333">6</text>
<text x="151.9" y="333.5" text-anchor="end" font-family='"Liberation Sans", sans-serif' font-size="4.6" fill="#333">10</text>
<text x="152.1" y="331.7" font-family='"Liberation Sans", sans-serif' font-size="6.6" fill="#333">7.2</text>
<text x="90.4" y="341.7" text-anchor="middle" font-family='"Liberation Sans", sans-serif' font-weight="bold" font-size="6.6" letter-spacing="0.4" fill="#555">PI-A</text>
<text x="79.9" y="222.3" font-family='"Liberation Serif", serif' font-size="7.4" fill="#222">20626</text>
<path d="M94.4 246.6H152.4" stroke="#c6456a" stroke-width="1" stroke-dasharray="4.4 3.2"/>
<path d="M94.4 240.3V244.8M94.4 247.5V252.4M152.4 240.3V244.8M152.4 247.5V252.4" stroke="#c6456a" stroke-width="0.9"/>
<text x="95.9" y="236.2" font-family='"Liberation Sans", sans-serif' font-size="8.8" letter-spacing="-0.3" fill="#c6456a">M1</text>
<text x="95" y="244.7" font-family='"Liberation Sans", sans-serif' font-size="8.8" letter-spacing="0.7" fill="#c6456a">10.3%</text>
<text x="86.2" y="363.6" text-anchor="middle" font-family='"Liberation Serif", serif' font-size="17" fill="#111">e</text>
<polygon points="215,321.6 215,321.5 215.5,321.5 215.5,321.31 216,321.31 216,321.44 216.5,321.44 216.5,321.07 217,321.07 217,320.73 217.5,320.73 217.5,320.55 218,320.55 218,320.39 218.5,320.39 218.5,320.17 219,320.17 219,319.99 219.5,319.99 219.5,319.56 220,319.56 220,319.21 220.5,319.21 220.5,319.16 221,319.16 221,318.07 221.5,318.07 221.5,318.37 222,318.37 222,317.87 222.5,317.87 222.5,317.05 223,317.05 223,316.35 223.5,316.35 223.5,316.12 224,316.12 224,315.95 224.5,315.95 224.5,314.69 225,314.69 225,314.82 225.5,314.82 225.5,314.4 226,314.4 226,314.77 226.5,314.77 226.5,312.3 227,312.3 227,311.67 227.5,311.67 227.5,309.63 228,309.63 228,308.3 228.5,308.3 228.5,305.83 229,305.83 229,302.94 229.5,302.94 229.5,301.62 230,301.62 230,296.17 230.5,296.17 230.5,292.73 231,292.73 231,287.8 231.5,287.8 231.5,280.17 232,280.17 232,275.41 232.5,275.41 232.5,271.12 233,271.12 233,266.33 233.5,266.33 233.5,259.4 234,259.4 234,253.67 234.5,253.67 234.5,248.85 235,248.85 235,242.86 235.5,242.86 235.5,237.81 236,237.81 236,236.58 236.5,236.58 236.5,235.59 237,235.59 237,226.43 237.5,226.43 237.5,227.62 238,227.62 238,226.41 238.5,226.41 238.5,227.93 239,227.93 239,231.75 239.5,231.75 239.5,228.82 240,228.82 240,241.49 240.5,241.49 240.5,245.96 241,245.96 241,250.94 241.5,250.94 241.5,256.19 242,256.19 242,259.52 242.5,259.52 242.5,269.03 243,269.03 243,272.61 243.5,272.61 243.5,280.24 244,280.24 244,286.4 244.5,286.4 244.5,286.17 245,286.17 245,290.46 245.5,290.46 245.5,296.31 246,296.31 246,296.28 246.5,296.28 246.5,297.77 247,297.77 247,300.37 247.5,300.37 247.5,300.42 248,300.42 248,309.07 248.5,309.07 248.5,307.95 249,307.95 249,306.01 249.5,306.01 249.5,305.15 250,305.15 250,303.07 250.5,303.07 250.5,303.19 251,303.19 251,302.85 251.5,302.85 251.5,303.76 252,303.76 252,303.95 252.5,303.95 252.5,304.19 253,304.19 253,304.84 253.5,304.84 253.5,305.14 254,305.14 254,308.4 254.5,308.4 254.5,307.26 255,307.26 255,307.01 255.5,307.01 255.5,308.54 256,308.54 256,308.18 256.5,308.18 256.5,309.02 257,309.02 257,310.49 257.5,310.49 257.5,310.74 258,310.74 258,310.41 258.5,310.41 258.5,311.03 259,311.03 259,311.85 259.5,311.85 259.5,313.54 260,313.54 260,313.01 260.5,313.01 260.5,314.61 261,314.61 261,313.55 261.5,313.55 261.5,314.76 262,314.76 262,314.74 262.5,314.74 262.5,315.86 263,315.86 263,317.19 263.5,317.19 263.5,317.26 264,317.26 264,318.2 264.5,318.2 264.5,318.15 265,318.15 265,318.22 265.5,318.22 265.5,319.84 266,319.84 266,319.15 266.5,319.15 266.5,319.13 267,319.13 267,320.04 267.5,320.04 267.5,320.02 268,320.02 268,320.18 268.5,320.18 268.5,320.36 269,320.36 269,320.9 269.5,320.9 269.5,320.7 270,320.7 270,320.99 270.5,320.99 270.5,320.77 271,320.77 271,320.65 271.5,320.65 271.5,320.83 272,320.83 272,320.75 272.5,320.75 272.5,321.08 273,321.08 273,320.82 273.5,320.82 273.5,320.99 274,320.99 274,319.53 274.5,319.53 274.5,318.19 275,318.19 275,315.61 275.5,315.61 275.5,315.25 276,315.25 276,315.41 276.5,315.41 276.5,314.21 277,314.21 277,312.89 277.5,312.89 277.5,314.84 278,314.84 278,316.07 278.5,316.07 278.5,316.08 279,316.08 279,316.86 279.5,316.86 279.5,314.72 280,314.72 280,315.23 280.5,315.23 280.5,316.15 281,316.15 281,316.45 281.5,316.45 281.5,317.46 282,317.46 282,316.81 282.5,316.81 282.5,317.65 283,317.65 283,318.09 283.5,318.09 283.5,318.57 284,318.57 284,318.88 284.5,318.88 284.5,319.18 285,319.18 285,319.38 285.5,319.38 285.5,320.15 286,320.15 286,320.41 286.5,320.41 286.5,320.61 287,320.61 287,320.63 287.5,320.63 287.5,320.98 288,320.98 288,320.96 288.5,320.96 288.5,321.07 289,321.07 289,321.33 289.5,321.33 289.5,321.47 290,321.47 290,321.6 290.5,321.6 290.5,321.6" fill="#fe2508"/>
<path d="M188.3 195.2H317.3V325.2" fill="none" stroke="#5a5a5a" stroke-width="1"/>
<path d="M188.3 195.2V325.2" fill="none" stroke="#5a5a5a" stroke-width="1"/>
<path d="M184.3 321.6H317.3" fill="none" stroke="#5a5a5a" stroke-width="1"/>
<path d="M184.3 321.6H188.3" stroke="#5a5a5a" stroke-width="1"/>
<text transform="translate(179.8 321.9) rotate(-90) scale(0.84 1)" text-anchor="middle" font-family='"Liberation Sans", sans-serif' font-size="7.8" fill="#444">0</text>
<path d="M184.3 279.47H188.3" stroke="#5a5a5a" stroke-width="1"/>
<text transform="translate(179.8 279.77) rotate(-90) scale(0.84 1)" text-anchor="middle" font-family='"Liberation Sans", sans-serif' font-size="7.8" fill="#444">200</text>
<path d="M184.3 237.33H188.3" stroke="#5a5a5a" stroke-width="1"/>
<text transform="translate(179.8 237.63) rotate(-90) scale(0.84 1)" text-anchor="middle" font-family='"Liberation Sans", sans-serif' font-size="7.8" fill="#444">400</text>
<path d="M184.3 195.2H188.3" stroke="#5a5a5a" stroke-width="1"/>
<text transform="translate(179.8 195.5) rotate(-90) scale(0.84 1)" text-anchor="middle" font-family='"Liberation Sans", sans-serif' font-size="7.8" fill="#444">600</text>
<text transform="translate(170.7 272.3) rotate(-90) scale(0.9 1)" text-anchor="middle" font-family='"Liberation Sans", sans-serif' font-weight="bold" font-size="7.6" fill="#333">Count</text>
<path d="M188.3 321.6V325.6M194.56 321.6V325.4M198.23 321.6V325.4M200.83 321.6V325.4M202.84 321.6V325.4M204.49 321.6V325.4M205.88 321.6V325.4M207.09 321.6V325.4M208.15 321.6V325.4M209.11 321.6V325.6M215.37 321.6V325.4M219.03 321.6V325.4M221.63 321.6V325.4M223.65 321.6V325.4M225.3 321.6V325.4M226.69 321.6V325.4M227.9 321.6V325.4M228.96 321.6V325.4M229.91 321.6V325.6M236.18 321.6V325.4M239.84 321.6V325.4M242.44 321.6V325.4M244.46 321.6V325.4M246.1 321.6V325.4M247.5 321.6V325.4M248.7 321.6V325.4M249.77 321.6V325.4M250.72 321.6V325.6M256.98 321.6V325.4M260.65 321.6V325.4M263.25 321.6V325.4M265.26 321.6V325.4M266.91 321.6V325.4M268.3 321.6V325.4M269.51 321.6V325.4M270.57 321.6V325.4M271.53 321.6V325.6M277.79 321.6V325.4M281.45 321.6V325.4M284.05 321.6V325.4M286.07 321.6V325.4M287.72 321.6V325.4M289.11 321.6V325.4M290.32 321.6V325.4M291.38 321.6V325.4M292.33 321.6V325.6M298.6 321.6V325.4M302.26 321.6V325.4M304.86 321.6V325.4M306.88 321.6V325.4M308.52 321.6V325.4M309.92 321.6V325.4M311.12 321.6V325.4M312.19 321.6V325.4M313.14 321.6V325.6" stroke="#333" stroke-width="0.85"/>
<text x="188.3" y="334.2" text-anchor="end" font-family='"Liberation Sans", sans-serif' font-size="4.6" fill="#333">10</text>
<text x="188.5" y="332.4" font-family='"Liberation Sans", sans-serif' font-size="6.6" fill="#333">1</text>
<text x="209.11" y="334.2" text-anchor="end" font-family='"Liberation Sans", sans-serif' font-size="4.6" fill="#333">10</text>
<text x="209.31" y="332.4" font-family='"Liberation Sans", sans-serif' font-size="6.6" fill="#333">2</text>
<text x="229.91" y="334.2" text-anchor="end" font-family='"Liberation Sans", sans-serif' font-size="4.6" fill="#333">10</text>
<text x="230.11" y="332.4" font-family='"Liberation Sans", sans-serif' font-size="6.6" fill="#333">3</text>
<text x="250.72" y="334.2" text-anchor="end" font-family='"Liberation Sans", sans-serif' font-size="4.6" fill="#333">10</text>
<text x="250.92" y="332.4" font-family='"Liberation Sans", sans-serif' font-size="6.6" fill="#333">4</text>
<text x="271.53" y="334.2" text-anchor="end" font-family='"Liberation Sans", sans-serif' font-size="4.6" fill="#333">10</text>
<text x="271.73" y="332.4" font-family='"Liberation Sans", sans-serif' font-size="6.6" fill="#333">5</text>
<text x="292.33" y="334.2" text-anchor="end" font-family='"Liberation Sans", sans-serif' font-size="4.6" fill="#333">10</text>
<text x="292.53" y="332.4" font-family='"Liberation Sans", sans-serif' font-size="6.6" fill="#333">6</text>
<text x="314.6" y="334.2" text-anchor="end" font-family='"Liberation Sans", sans-serif' font-size="4.6" fill="#333">10</text>
<text x="314.8" y="332.4" font-family='"Liberation Sans", sans-serif' font-size="6.6" fill="#333">7</text>
<text x="252.9" y="342.4" text-anchor="middle" font-family='"Liberation Sans", sans-serif' font-weight="bold" font-size="6.6" letter-spacing="0.4" fill="#555">PI-A</text>
<text x="243" y="218.4" font-family='"Liberation Serif", serif' font-size="7.4" fill="#222">18587</text>
<path d="M256.9 247.2H315.1" stroke="#c6456a" stroke-width="1" stroke-dasharray="4.4 3.2"/>
<path d="M256.9 240.9V245.4M256.9 248.1V253M315.1 240.9V245.4M315.1 248.1V253" stroke="#c6456a" stroke-width="0.9"/>
<text x="258.4" y="236.8" font-family='"Liberation Sans", sans-serif' font-size="8.8" letter-spacing="-0.3" fill="#c6456a">M1</text>
<text x="257.5" y="245.3" font-family='"Liberation Sans", sans-serif' font-size="8.8" letter-spacing="0.7" fill="#c6456a">10.4%</text>
<text x="257.4" y="368.5" text-anchor="middle" font-family='"Liberation Serif", serif' font-size="17" fill="#111">f</text>
<polygon points="381,322.2 381,322.14 381.5,322.14 381.5,322.01 382,322.01 382,322.04 382.5,322.04 382.5,321.84 383,321.84 383,321.55 383.5,321.55 383.5,321.36 384,321.36 384,321.41 384.5,321.41 384.5,321.23 385,321.23 385,320.68 385.5,320.68 385.5,321.05 386,321.05 386,321.04 386.5,321.04 386.5,320.78 387,320.78 387,320.36 387.5,320.36 387.5,320.57 388,320.57 388,320.64 388.5,320.64 388.5,319.94 389,319.94 389,319.82 389.5,319.82 389.5,319.28 390,319.28 390,318.25 390.5,318.25 390.5,318.72 391,318.72 391,318.1 391.5,318.1 391.5,317.95 392,317.95 392,317.05 392.5,317.05 392.5,315.25 393,315.25 393,314.13 393.5,314.13 393.5,312.9 394,312.9 394,312.57 394.5,312.57 394.5,309.07 395,309.07 395,307.36 395.5,307.36 395.5,304.43 396,304.43 396,302.73 396.5,302.73 396.5,300.24 397,300.24 397,292.81 397.5,292.81 397.5,287.59 398,287.59 398,283.09 398.5,283.09 398.5,278.89 399,278.89 399,272.98 399.5,272.98 399.5,266.45 400,266.45 400,263.76 400.5,263.76 400.5,257.56 401,257.56 401,250.19 401.5,250.19 401.5,239.22 402,239.22 402,236.53 402.5,236.53 402.5,236.4 403,236.4 403,240.11 403.5,240.11 403.5,238.33 404,238.33 404,244.31 404.5,244.31 404.5,251.48 405,251.48 405,256.23 405.5,256.23 405.5,256.46 406,256.46 406,266.77 406.5,266.77 406.5,272.95 407,272.95 407,275.71 407.5,275.71 407.5,287.74 408,287.74 408,289.31 408.5,289.31 408.5,297.34 409,297.34 409,297.83 409.5,297.83 409.5,303.48 410,303.48 410,304.63 410.5,304.63 410.5,306.06 411,306.06 411,309.51 411.5,309.51 411.5,310.34 412,310.34 412,313.53 412.5,313.53 412.5,314.84 413,314.84 413,316.19 413.5,316.19 413.5,316.94 414,316.94 414,317.23 414.5,317.23 414.5,316.81 415,316.81 415,317.33 415.5,317.33 415.5,318.61 416,318.61 416,318.71 416.5,318.71 416.5,318.91 417,318.91 417,318.08 417.5,318.08 417.5,318.91 418,318.91 418,319.48 418.5,319.48 418.5,319.78 419,319.78 419,318.4 419.5,318.4 419.5,319.83 420,319.83 420,318.81 420.5,318.81 420.5,320.11 421,320.11 421,319.5 421.5,319.5 421.5,319.57 422,319.57 422,319.74 422.5,319.74 422.5,319.14 423,319.14 423,319.1 423.5,319.1 423.5,318.71 424,318.71 424,318.46 424.5,318.46 424.5,319.3 425,319.3 425,319.15 425.5,319.15 425.5,319.36 426,319.36 426,319.11 426.5,319.11 426.5,319.01 427,319.01 427,319.6 427.5,319.6 427.5,319.28 428,319.28 428,319.5 428.5,319.5 428.5,319.7 429,319.7 429,319.45 429.5,319.45 429.5,319.3 430,319.3 430,319.17 430.5,319.17 430.5,318.74 431,318.74 431,319.38 431.5,319.38 431.5,318.61 432,318.61 432,319.53 432.5,319.53 432.5,319.52 433,319.52 433,318.97 433.5,318.97 433.5,318.33 434,318.33 434,318.92 434.5,318.92 434.5,318.54 435,318.54 435,319.56 435.5,319.56 435.5,318.82 436,318.82 436,319.39 436.5,319.39 436.5,319.4 437,319.4 437,318.84 437.5,318.84 437.5,319.33 438,319.33 438,319.16 438.5,319.16 438.5,318.99 439,318.99 439,319.17 439.5,319.17 439.5,319.07 440,319.07 440,319.88 440.5,319.88 440.5,319.98 441,319.98 441,319.16 441.5,319.16 441.5,319.77 442,319.77 442,319.54 442.5,319.54 442.5,320.19 443,320.19 443,318.96 443.5,318.96 443.5,319.39 444,319.39 444,319.78 444.5,319.78 444.5,319.61 445,319.61 445,319.21 445.5,319.21 445.5,319.62 446,319.62 446,320.09 446.5,320.09 446.5,320 447,320 447,320.17 447.5,320.17 447.5,320.31 448,320.31 448,321.71 448.5,321.71 448.5,322.2" fill="#fe2508"/>
<path d="M353 195.7H482.1V325.8" fill="none" stroke="#5a5a5a" stroke-width="1"/>
<path d="M353 195.7V325.8" fill="none" stroke="#5a5a5a" stroke-width="1"/>
<path d="M349 322.2H482.1" fill="none" stroke="#5a5a5a" stroke-width="1"/>
<path d="M349 322.2H353" stroke="#5a5a5a" stroke-width="1"/>
<text transform="translate(344.5 322.5) rotate(-90) scale(0.84 1)" text-anchor="middle" font-family='"Liberation Sans", sans-serif' font-size="7.8" fill="#444">0</text>
<path d="M349 280.03H353" stroke="#5a5a5a" stroke-width="1"/>
<text transform="translate(344.5 280.33) rotate(-90) scale(0.84 1)" text-anchor="middle" font-family='"Liberation Sans", sans-serif' font-size="7.8" fill="#444">200</text>
<path d="M349 237.87H353" stroke="#5a5a5a" stroke-width="1"/>
<text transform="translate(344.5 238.17) rotate(-90) scale(0.84 1)" text-anchor="middle" font-family='"Liberation Sans", sans-serif' font-size="7.8" fill="#444">400</text>
<path d="M349 195.7H353" stroke="#5a5a5a" stroke-width="1"/>
<text transform="translate(344.5 196) rotate(-90) scale(0.84 1)" text-anchor="middle" font-family='"Liberation Sans", sans-serif' font-size="7.8" fill="#444">600</text>
<text transform="translate(335.4 272.9) rotate(-90) scale(0.9 1)" text-anchor="middle" font-family='"Liberation Sans", sans-serif' font-weight="bold" font-size="7.6" fill="#333">Count</text>
<path d="M353 322.2V326.2M359.27 322.2V326M362.93 322.2V326M365.54 322.2V326M367.55 322.2V326M369.2 322.2V326M370.6 322.2V326M371.8 322.2V326M372.87 322.2V326M373.82 322.2V326.2M380.09 322.2V326M383.76 322.2V326M386.36 322.2V326M388.38 322.2V326M390.03 322.2V326M391.42 322.2V326M392.63 322.2V326M393.69 322.2V326M394.65 322.2V326.2M400.91 322.2V326M404.58 322.2V326M407.18 322.2V326M409.2 322.2V326M410.85 322.2V326M412.24 322.2V326M413.45 322.2V326M414.51 322.2V326M415.47 322.2V326.2M421.74 322.2V326M425.4 322.2V326M428 322.2V326M430.02 322.2V326M431.67 322.2V326M433.06 322.2V326M434.27 322.2V326M435.34 322.2V326M436.29 322.2V326.2M442.56 322.2V326M446.23 322.2V326M448.83 322.2V326M450.84 322.2V326M452.49 322.2V326M453.89 322.2V326M455.09 322.2V326M456.16 322.2V326M457.11 322.2V326.2M463.38 322.2V326M467.05 322.2V326M469.65 322.2V326M471.67 322.2V326M473.32 322.2V326M474.71 322.2V326M475.92 322.2V326M476.98 322.2V326M477.94 322.2V326.2" stroke="#333" stroke-width="0.85"/>
<text x="353" y="334.8" text-anchor="end" font-family='"Liberation Sans", sans-serif' font-size="4.6" fill="#333">10</text>
<text x="353.2" y="333" font-family='"Liberation Sans", sans-serif' font-size="6.6" fill="#333">1</text>
<text x="373.82" y="334.8" text-anchor="end" font-family='"Liberation Sans", sans-serif' font-size="4.6" fill="#333">10</text>
<text x="374.02" y="333" font-family='"Liberation Sans", sans-serif' font-size="6.6" fill="#333">2</text>
<text x="394.65" y="334.8" text-anchor="end" font-family='"Liberation Sans", sans-serif' font-size="4.6" fill="#333">10</text>
<text x="394.85" y="333" font-family='"Liberation Sans", sans-serif' font-size="6.6" fill="#333">3</text>
<text x="415.47" y="334.8" text-anchor="end" font-family='"Liberation Sans", sans-serif' font-size="4.6" fill="#333">10</text>
<text x="415.67" y="333" font-family='"Liberation Sans", sans-serif' font-size="6.6" fill="#333">4</text>
<text x="436.29" y="334.8" text-anchor="end" font-family='"Liberation Sans", sans-serif' font-size="4.6" fill="#333">10</text>
<text x="436.49" y="333" font-family='"Liberation Sans", sans-serif' font-size="6.6" fill="#333">5</text>
<text x="457.11" y="334.8" text-anchor="end" font-family='"Liberation Sans", sans-serif' font-size="4.6" fill="#333">10</text>
<text x="457.31" y="333" font-family='"Liberation Sans", sans-serif' font-size="6.6" fill="#333">6</text>
<text x="479.4" y="334.8" text-anchor="end" font-family='"Liberation Sans", sans-serif' font-size="4.6" fill="#333">10</text>
<text x="479.6" y="333" font-family='"Liberation Sans", sans-serif' font-size="6.6" fill="#333">7.2</text>
<text x="417.6" y="343" text-anchor="middle" font-family='"Liberation Sans", sans-serif' font-weight="bold" font-size="6.6" letter-spacing="0.4" fill="#555">PI-A</text>
<text x="403.7" y="226.7" font-family='"Liberation Serif", serif' font-size="7.4" fill="#222">14150</text>
<path d="M421.6 247.7H479.9" stroke="#c6456a" stroke-width="1" stroke-dasharray="4.4 3.2"/>
<path d="M421.6 241.4V245.9M421.6 248.6V253.5M479.9 241.4V245.9M479.9 248.6V253.5" stroke="#c6456a" stroke-width="0.9"/>
<text x="423.1" y="237.3" font-family='"Liberation Sans", sans-serif' font-size="8.8" letter-spacing="-0.3" fill="#c6456a">M1</text>
<text x="422.2" y="245.8" font-family='"Liberation Sans", sans-serif' font-size="8.8" letter-spacing="0.7" fill="#c6456a">7.6%</text>
<text x="426.8" y="363" text-anchor="middle" font-family='"Liberation Serif", serif' font-size="17" fill="#111">g</text>
<rect x="537.7" y="297.5" width="13.6" height="20.5" fill="#060606" stroke="#000" stroke-width="0.6"/>
<path d="M544.5 297.5V294.91M541.1 294.91H547.9" stroke="#6a6a6a" stroke-width="1.1"/>
<path d="M544.5 318V322" stroke="#333" stroke-width="1.1"/>
<text transform="translate(547.1 329.2) rotate(-45)" text-anchor="end" font-family='"Liberation Serif", serif' font-weight="bold" font-size="7.8" fill="#222">NG</text>
<rect x="558.2" y="294.18" width="13.6" height="23.82" fill="#5c5c5c" stroke="#333" stroke-width="0.6"/>
<path d="M565 294.18V292.43M561.6 292.43H568.4" stroke="#6a6a6a" stroke-width="1.1"/>
<path d="M565 318V322" stroke="#333" stroke-width="1.1"/>
<text transform="translate(567.6 329.2) rotate(-45)" text-anchor="end" font-family='"Liberation Serif", serif' font-weight="bold" font-size="7.8" fill="#222">NG+Mannitol</text>
<rect x="578.7" y="240.21" width="13.6" height="77.79" fill="#d6d6d6" stroke="#d6d6d6" stroke-width="0.6"/>
<path d="M585.5 240.21V234.79M582.1 234.79H588.9" stroke="#6a6a6a" stroke-width="1.1"/>
<path d="M585.5 318V322" stroke="#333" stroke-width="1.1"/>
<text transform="translate(588.1 329.2) rotate(-45)" text-anchor="end" font-family='"Liberation Serif", serif' font-weight="bold" font-size="7.8" fill="#222">NG+LPS+IFN-γ</text>
<rect x="599.4" y="306.34" width="13.6" height="11.66" fill="#9c9c9e" stroke="#6a6a6a" stroke-width="0.6"/>
<path d="M606.2 306.34V305.74M602.8 305.74H609.6" stroke="#6a6a6a" stroke-width="1.1"/>
<path d="M606.2 318V322" stroke="#333" stroke-width="1.1"/>
<text transform="translate(608.8 329.2) rotate(-45)" text-anchor="end" font-family='"Liberation Serif", serif' font-weight="bold" font-size="7.8" fill="#222">NG+IL-4</text>
<rect x="620.2" y="276.9" width="13.6" height="41.1" fill="#d8d8d8" stroke="#d8d8d8" stroke-width="0.6"/>
<path d="M627 276.9V271.57M623.6 271.57H630.4" stroke="#6a6a6a" stroke-width="1.1"/>
<path d="M627 318V322" stroke="#333" stroke-width="1.1"/>
<text transform="translate(629.6 329.2) rotate(-45)" text-anchor="end" font-family='"Liberation Serif", serif' font-weight="bold" font-size="7.8" fill="#222">HG</text>
<rect x="640.7" y="281.02" width="13.6" height="36.98" fill="#333333" stroke="#111" stroke-width="0.6"/>
<path d="M647.5 281.02V279.61M644.1 279.61H650.9" stroke="#6a6a6a" stroke-width="1.1"/>
<path d="M647.5 318V322" stroke="#333" stroke-width="1.1"/>
<text transform="translate(650.1 329.2) rotate(-45)" text-anchor="end" font-family='"Liberation Serif", serif' font-weight="bold" font-size="7.8" fill="#222">HG+vector</text>
<rect x="661.4" y="289.66" width="13.6" height="28.34" fill="#7e7e7e" stroke="#555" stroke-width="0.6"/>
<path d="M668.2 289.66V287.65M664.8 287.65H671.6" stroke="#6a6a6a" stroke-width="1.1"/>
<path d="M668.2 318V322" stroke="#333" stroke-width="1.1"/>
<text transform="translate(670.8 329.2) rotate(-45)" text-anchor="end" font-family='"Liberation Serif", serif' font-weight="bold" font-size="7.8" fill="#222">HG+miR-125b inhibitor</text>
<path d="M530 217.4V318H682.8" fill="none" stroke="#2a2a2a" stroke-width="1.4"/>
<path d="M526 318H530" stroke="#2a2a2a" stroke-width="1.2"/>
<text x="524.4" y="321.1" text-anchor="end" font-family='"Liberation Serif", serif' font-weight="bold" font-size="7.4" fill="#222">0</text>
<path d="M526 297.9H530" stroke="#2a2a2a" stroke-width="1.2"/>
<text x="524.4" y="301" text-anchor="end" font-family='"Liberation Serif", serif' font-weight="bold" font-size="7.4" fill="#222">10000</text>
<path d="M526 277.8H530" stroke="#2a2a2a" stroke-width="1.2"/>
<text x="524.4" y="280.9" text-anchor="end" font-family='"Liberation Serif", serif' font-weight="bold" font-size="7.4" fill="#222">20000</text>
<path d="M526 257.7H530" stroke="#2a2a2a" stroke-width="1.2"/>
<text x="524.4" y="260.8" text-anchor="end" font-family='"Liberation Serif", serif' font-weight="bold" font-size="7.4" fill="#222">30000</text>
<path d="M526 237.6H530" stroke="#2a2a2a" stroke-width="1.2"/>
<text x="524.4" y="240.7" text-anchor="end" font-family='"Liberation Serif", serif' font-weight="bold" font-size="7.4" fill="#222">40000</text>
<path d="M526 217.5H530" stroke="#2a2a2a" stroke-width="1.2"/>
<text x="524.4" y="220.6" text-anchor="end" font-family='"Liberation Serif", serif' font-weight="bold" font-size="7.4" fill="#222">50000</text>
<text transform="translate(500.4 263.4) rotate(-90)" text-anchor="middle" font-family='"Liberation Serif", serif' font-weight="bold" font-size="7.4" fill="#222">Fluorescence intensity</text>
<path d="M544.5 201.4V196.7H626.7V201.4" fill="none" stroke="#a3a3a3" stroke-width="1"/>
<circle cx="586.1" cy="192.7" r="1.7" fill="#505050"/>
<circle cx="590.4" cy="192.7" r="1.7" fill="#505050"/>
<path d="M544.5 216V211.6H607.6V216" fill="none" stroke="#a3a3a3" stroke-width="1"/>
<circle cx="573.6" cy="206.4" r="1.7" fill="#505050"/>
<path d="M544.5 231.3V226.8H585.8V231.3" fill="none" stroke="#a3a3a3" stroke-width="1"/>
<circle cx="562.05" cy="223" r="1.7" fill="#505050"/>
<circle cx="566.35" cy="223" r="1.7" fill="#505050"/>
<path d="M626.1 246.5V242.3H667.8V246.5" fill="none" stroke="#a3a3a3" stroke-width="1"/>
<circle cx="645.05" cy="238.4" r="1.7" fill="#505050"/>
<circle cx="649.35" cy="238.4" r="1.7" fill="#505050"/>
<path d="M627.4 264V259.7H645.7V264" fill="none" stroke="#a3a3a3" stroke-width="1"/>
<text x="636.6" y="257.6" text-anchor="middle" font-family='"Liberation Sans", sans-serif' font-size="7" fill="#555">ns</text>
<path d="M544.3 288.6V284.3H562.9V288.6" fill="none" stroke="#a3a3a3" stroke-width="1"/>
<text x="553.8" y="283.2" text-anchor="middle" font-family='"Liberation Serif", serif' font-size="8" fill="#555">ns</text>
<text x="592.3" y="370.8" text-anchor="middle" font-family='"Liberation Serif", serif' font-size="17" fill="#111">h</text>
</svg>
</body></html>
